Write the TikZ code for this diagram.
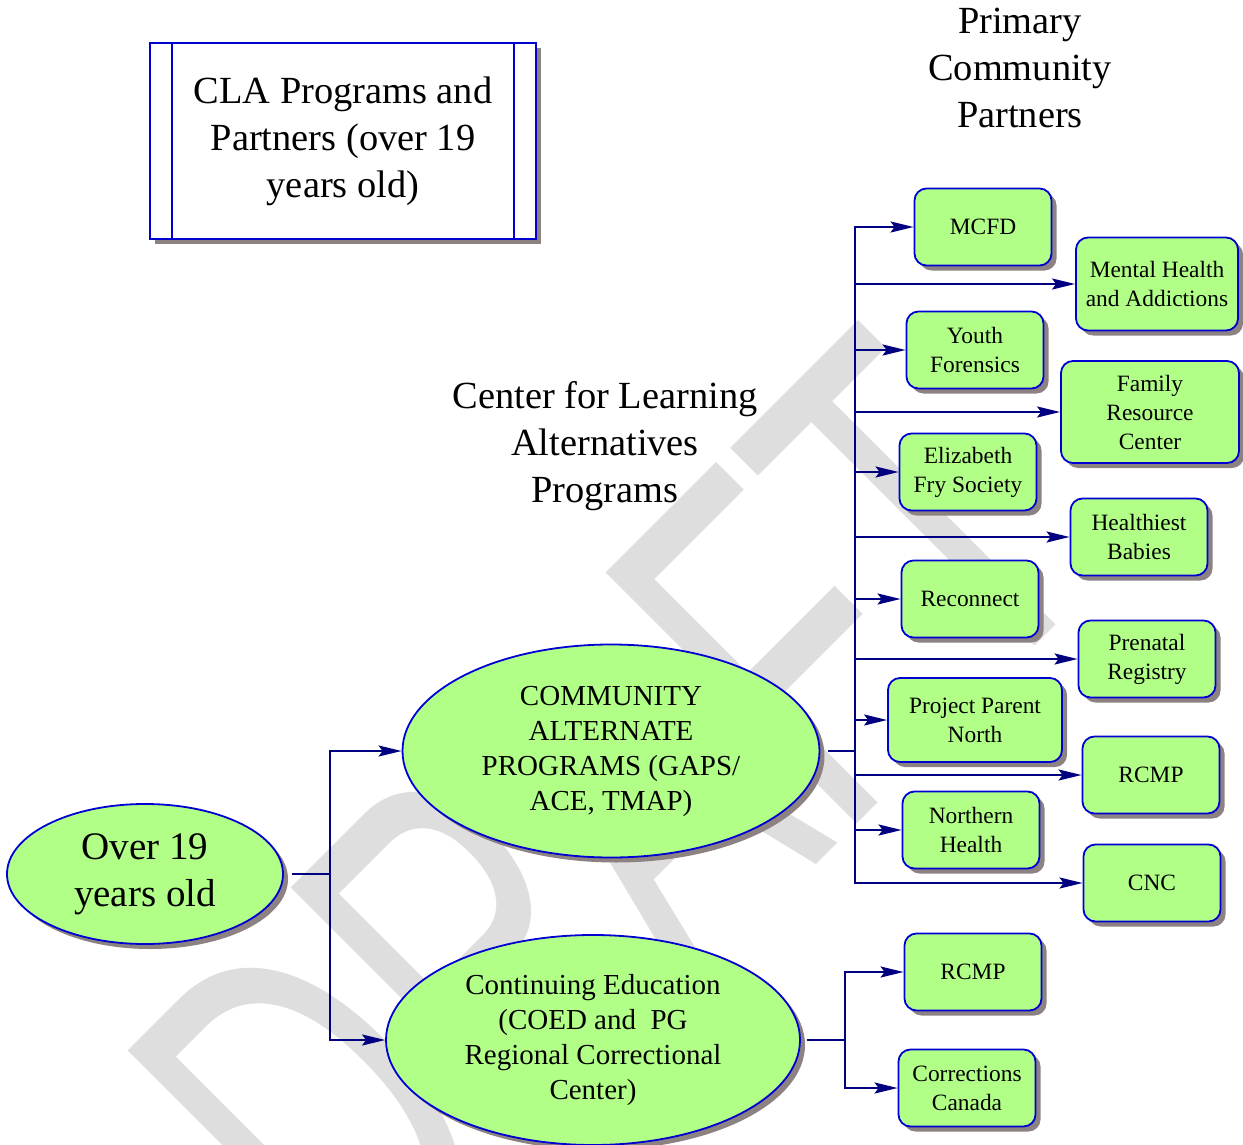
\documentclass[tikz,border=0pt]{standalone}
\usepackage{fontspec}
\usepackage{graphicx}
\setmainfont{Liberation Serif}
\newfontfamily\draftfont{Liberation Sans}
\usetikzlibrary{arrows.meta,shapes.geometric,shadows}

\definecolor{boxgreen}{RGB}{178,255,136}
\definecolor{boxblue}{RGB}{0,0,210}
\definecolor{linkblue}{RGB}{0,0,128}
\definecolor{shadowgray}{RGB}{140,130,130}
\definecolor{draftgray}{RGB}{222,222,222}

\tikzset{
  shade box/.style={drop shadow={shadow xshift=2.5pt,shadow yshift=-2.5pt,fill=shadowgray,opacity=1}},
  partner/.style={draw=boxblue,fill=boxgreen,line width=0.9pt,rounded corners=6pt,
    minimum width=68.5pt,minimum height=38.5pt,align=center,inner sep=2pt,
    font=\fontsize{11.7}{14.5}\selectfont,shade box},
  program/.style={ellipse,draw=boxblue,fill=boxgreen,line width=0.9pt,align=center,
    inner sep=0pt,font=\fontsize{14.5}{17.5}\selectfont,shade box},
  heading/.style={align=center,font=\fontsize{19.2}{23.5}\selectfont},
  link/.style={draw=linkblue,line width=1pt,-{Stealth[length=11.5pt,width=5.5pt,inset=2pt]}},
  stub/.style={draw=linkblue,line width=1pt},
  elbow/.style={to path={|- (\tikztotarget) \tikztonodes}}
}

\begin{document}
\begin{tikzpicture}[x=0.5pt,y=-0.5pt]
  \useasboundingbox (0,0) rectangle (1243,1145);

  % watermark
  \node[rotate=45,text=draftgray,inner sep=0pt] (draft) at (612,818)
    {\draftfont\fontsize{258}{258}\selectfont\scalebox{0.62}[1]{DRAFT}};

  % title and headings
  \node[heading,draw=boxblue,fill=white,line width=0.9pt,minimum width=193pt,
    minimum height=98pt,shade box] (title) at (343,141)
    {CLA Programs and\\ Partners (over 19\\ years old)};
  \draw[boxblue,line width=0.9pt]
    ([xshift=11.5pt]title.north west) -- ([xshift=11.5pt]title.south west)
    ([xshift=-11.5pt]title.north east) -- ([xshift=-11.5pt]title.south east);
  \node[heading] (partners) at (1020,68) {Primary\\ Community\\ Partners};
  \node[heading] (programs) at (605,446) {Center for Learning\\ Alternatives\\ Programs};

  % programs
  \node[program,minimum width=138pt,minimum height=70pt,
    font=\fontsize{19.5}{23.5}\selectfont] (over) at (145,874) {Over 19\\ years old};
  \node[program,minimum width=208.5pt,minimum height=106.5pt] (cap) at (611,751)
    {COMMUNITY\\ ALTERNATE\\ PROGRAMS (GAPS/\\ ACE, TMAP)};
  \node[program,minimum width=207pt,minimum height=105pt] (coed) at (593,1040)
    {Continuing Education\\ (COED and\ \ PG\\ Regional Correctional\\ Center)};

  % partners
  \begin{scope}[every node/.style={partner}]
    \node (mcfd)      at (983,227)  {MCFD};
    \node[minimum width=81pt,minimum height=46.5pt] (mha) at (1157,284) {Mental Health\\ and Addictions};
    \node (youth)     at (975,350)  {Youth\\ Forensics};
    \node[minimum width=89pt,minimum height=51pt] (family) at (1150,412) {Family\\ Resource\\ Center};
    \node (efry)      at (968,472)  {Elizabeth\\ Fry Society};
    \node (healthy)   at (1139,537) {Healthiest\\ Babies};
    \node (reconnect) at (970,599)  {Reconnect};
    \node (prenatal)  at (1147,659) {Prenatal\\ Registry};
    \node[minimum width=87pt,minimum height=42pt] (ppn) at (975,720) {Project Parent\\ North};
    \node (rcmp)      at (1151,775) {RCMP};
    \node (nhealth)   at (971,830)  {Northern\\ Health};
    \node (cnc)       at (1152,883) {CNC};
    \node (rcmpb)     at (973,972)  {RCMP};
    \node (corr)      at (967,1088) {Corrections\\ Canada};
  \end{scope}

  \coordinate (j1) at (330,874);
  \coordinate (j2) at (855,751);
  \coordinate (j3) at (845,1040);

  \path (over) edge[stub,shorten <=4pt] (j1);
  \path (j1) edge[link,elbow] (cap);
  \path (j1) edge[link,elbow] (coed);

  \path (cap) edge[stub,shorten <=4pt] (j2);
  \path (j2) edge[link,elbow] (mcfd);
  \path (j2) edge[link,elbow] (mha);
  \path (j2) edge[link,elbow] (youth);
  \path (j2) edge[link,elbow] (family);
  \path (j2) edge[link,elbow] (efry);
  \path (j2) edge[link,elbow] (healthy);
  \path (j2) edge[link,elbow] (reconnect);
  \path (j2) edge[link,elbow] (prenatal);
  \path (j2) edge[link,elbow] (ppn);
  \path (j2) edge[link,elbow] (rcmp);
  \path (j2) edge[link,elbow] (nhealth);
  \path (j2) edge[link,elbow] (cnc);

  \path (coed) edge[stub,shorten <=3pt] (j3);
  \path (j3) edge[link,elbow] (rcmpb);
  \path (j3) edge[link,elbow] (corr);

\end{tikzpicture}
\end{document}
